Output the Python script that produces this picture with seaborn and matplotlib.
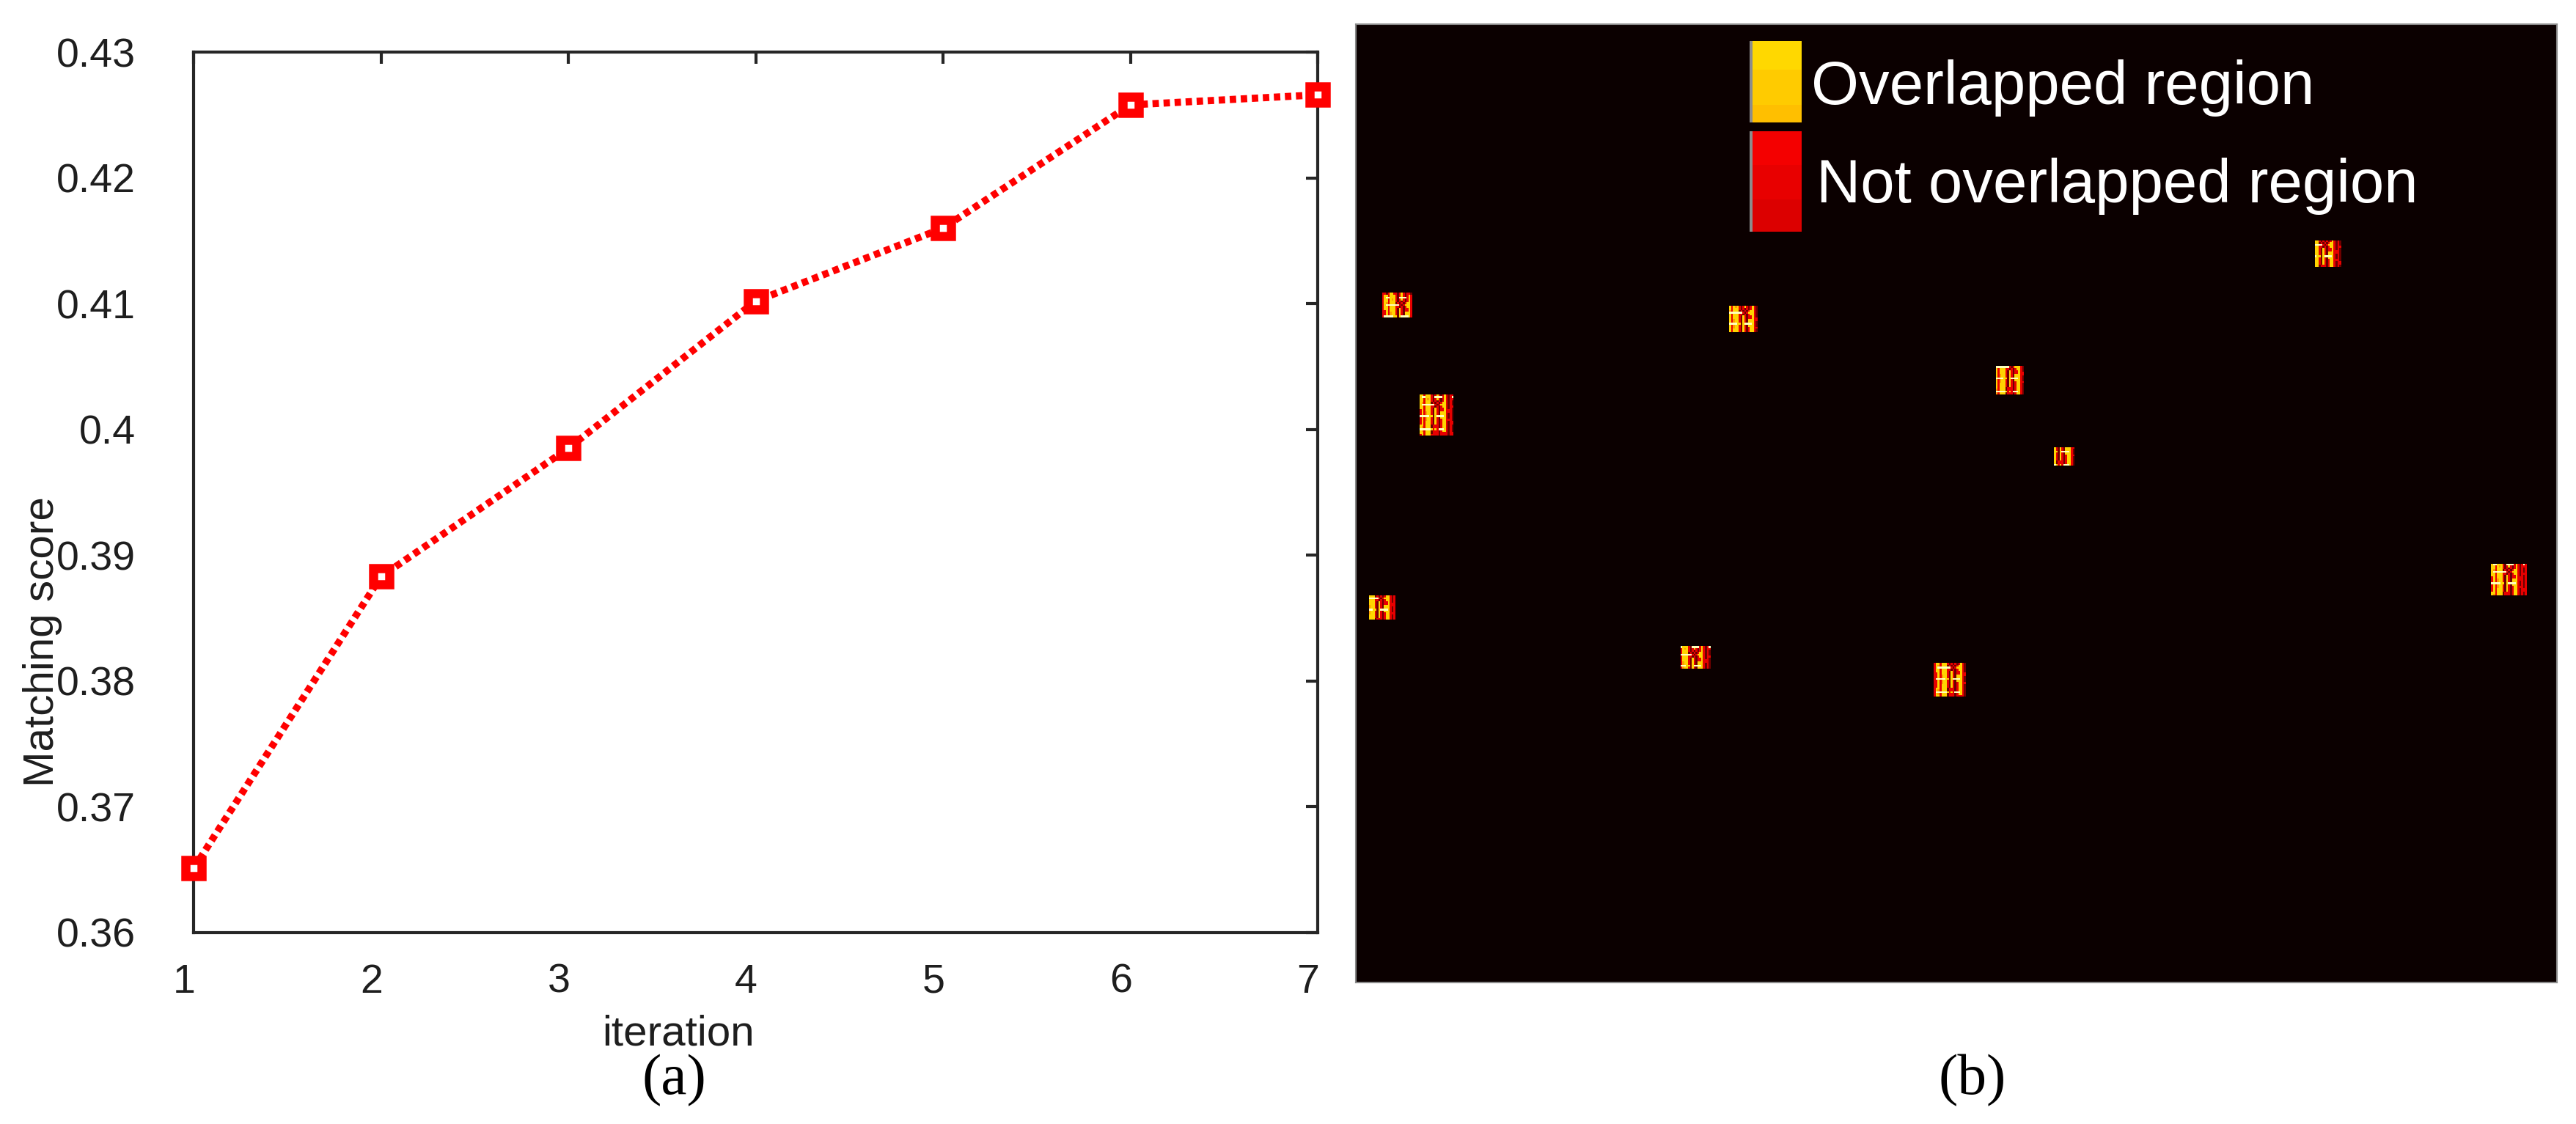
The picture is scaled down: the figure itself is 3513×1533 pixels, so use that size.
import numpy as np
import pandas as pd
import matplotlib
matplotlib.use("Agg")
import matplotlib.pyplot as plt
import seaborn as sns
from matplotlib.patches import Rectangle
from matplotlib.transforms import ScaledTranslation

# ---------------- data ----------------
iterations = [1, 2, 3, 4, 5, 6, 7]
scores = [0.3651, 0.3883, 0.3985, 0.4102, 0.4160, 0.4258, 0.4266]
xtick_vals = [1, 2, 3, 4, 5, 6, 7]
xtick_labels = ["1", "2", "3", "4", "5", "6", "7"]
ytick_vals = [0.36, 0.37, 0.38, 0.39, 0.40, 0.41, 0.42, 0.43]
ytick_labels = ["0.36", "0.37", "0.38", "0.39", "0.4", "0.41", "0.42", "0.43"]

# overlap map (b): grid size and blobs (cell coordinates, row 0 at top)
map_cols, map_rows = 640, 510
blob_col = [14, 34, 199, 7, 173, 308, 511, 341, 372, 605]
blob_row = [143, 197, 150, 304, 331, 340, 115, 182, 225, 287]
blob_w = [16, 18, 15, 14, 16, 17, 14, 15, 11, 19]
blob_h = [13, 22, 14, 13, 12, 18, 14, 15, 10, 17]
blob_tex_row = [0, 1, 3, 5, 2, 4, 4, 6, 10, 2]
blob_tex_col = [0, 1, 2, 4, 3, 0, 5, 2, 6, 1]
texture = [
    "rrdryyrrdryrdrrdrrdr",
    "ryyryyyrdryrdryrdrrr",
    "rywwyyyrdwwwwryrdrwr",
    "ryyryoyrdryrdryrdrrr",
    "ryyryyyrdrdrdryrdrdr",
    "ryoryyydrdrdryyrdrdr",
    "rywwwwwwwrdryyyrdrdr",
    "ryyryyyrrdrdryyrdrrr",
    "ryyryyyrdyrdrryrdrdr",
    "rryryyyrdyrdrryrrrdr",
    "rryroyyrdyrdyyyrrrdr",
    "rryroyyrdyrdyyyrdrdr",
    "rwwwwwyydywwwwyrdrdr",
    "rryroyyrdyrdyyyrdrdr",
    "rryroyyrdyrdryyrrrdr",
    "rryryyyrdyrdryyrdrrr",
    "rryryyyrdyrdryyrdrrr",
    "ryyryyydrrrdryyrdrdr",
    "ryoryyydrrrdryyrdrdr",
    "rwwwwwwyryrwwwyrdrdr",
    "ryoryyydrrrdryyrdrdr",
    "ryyryyydrrrdrrrrdrrr",
    "rryryyyrrrrdrrrrdrrr",
    "rrryyyrrdrrdrrrrrdrr",
]
levels = {".": 0.0, "d": 0.15, "r": 0.33, "o": 0.60, "y": 0.68, "w": 0.93}

legend_labels = ["Overlapped region", "Not overlapped region"]

# ---------------- figure ----------------
W, H = 3513, 1533
DPI = 100
sns.set_theme(style="white")
plt.rcParams["font.family"] = ["Liberation Sans", "DejaVu Sans"]
fig = plt.figure(figsize=(W / DPI, H / DPI), dpi=DPI, facecolor="white")


def fx(px):
    return px / W


def fy(py):
    return 1 - py / H


# ---- panel (a) ----
ax1 = fig.add_axes([fx(264), fy(1272), fx(1797 - 264), (1272 - 71) / H])
sns.lineplot(x=iterations, y=scores, ax=ax1, color="#ff0000", linewidth=7,
             marker="s", markersize=16, markeredgewidth=9,
             markerfacecolor="white", markeredgecolor="#ff0000",
             clip_on=False, zorder=5)
ln = ax1.lines[0]
ln.set_linestyle((0, (0.9, 0.65)))
ln.set_dash_capstyle("butt")

ax1.set_xlim(1, 7)
ax1.set_ylim(0.36, 0.43)
ax1.set_xticks(xtick_vals)
ax1.set_xticklabels(xtick_labels)
ax1.set_yticks(ytick_vals)
ax1.set_yticklabels(ytick_labels)
ax1.set_xlabel("")
ax1.set_ylabel("")
ax1.set_facecolor("white")
for s in ax1.spines.values():
    s.set_visible(True)
    s.set_color("#262626")
    s.set_linewidth(3)
ax1.tick_params(axis="both", direction="in", length=11.5, width=3, color="#262626",
                top=True, right=True, labelsize=40, labelcolor="#1e1e1e")
ax1.tick_params(axis="y", pad=57)
ax1.tick_params(axis="x", pad=30)
shift = ScaledTranslation(-13 / DPI, 0, fig.dpi_scale_trans)
for lab in ax1.get_xticklabels():
    lab.set_transform(lab.get_transform() + shift)

fig.text(fx(925), fy(1410), "iteration", ha="center", va="center",
         fontsize=42, color="#1e1e1e")
fig.text(fx(58), fy(875), "Matching score", ha="center", va="center",
         rotation=90, fontsize=42, color="#1e1e1e")
fig.text(fx(919), fy(1474), "(a)", ha="center", va="center", fontsize=57,
         family=["Liberation Serif", "DejaVu Serif"], color="black")
fig.text(fx(2690), fy(1474), "(b)", ha="center", va="center", fontsize=57,
         family=["Liberation Serif", "DejaVu Serif"], color="black")

# ---- panel (b) ----
grid = np.zeros((map_rows, map_cols))
tex = np.array([[levels[c] for c in row] for row in texture])
for c, r, w, h, tr, tc in zip(blob_col, blob_row, blob_w, blob_h, blob_tex_row, blob_tex_col):
    patch = tex[tr:tr + h, tc:tc + w]
    grid[r:r + patch.shape[0], c:c + patch.shape[1]] = patch
df = pd.DataFrame(grid)

ax2 = fig.add_axes([fx(1849), fy(1340), fx(1638), 1307 / H])
sns.heatmap(df, ax=ax2, cmap="hot", vmin=0, vmax=1, cbar=False,
            xticklabels=False, yticklabels=False, rasterized=True)
ax2.set_xticks([100, 200, 300, 400, 500, 600])
ax2.set_yticks([50, 100, 150, 200, 250, 300, 350, 400, 450, 500])
ax2.tick_params(axis="both", direction="in", length=11.5, width=1.5, color="#2e2e2e",
                top=True, right=True, bottom=True, left=True,
                labelbottom=False, labelleft=False)
ax2.set_xlabel("")
ax2.set_ylabel("")
for s in ax2.spines.values():
    s.set_visible(True)
    s.set_color("#8a8a8a")
    s.set_linewidth(1.5)

# legend swatches (figure pixel coordinates)
yellow_bands = [(56, 95, "#ffd800"), (95, 143, "#ffcb00"), (143, 167, "#ffbf00")]
red_bands = [(179, 225, "#f40000"), (225, 272, "#e80000"), (272, 316, "#dc0000")]
for bands in (yellow_bands, red_bands):
    for y0, y1, col in bands:
        fig.patches.append(Rectangle((fx(2390), fy(y1)), fx(2457 - 2390), (y1 - y0) / H,
                                     transform=fig.transFigure, facecolor=col,
                                     edgecolor="none", zorder=10))
    top, bot = bands[0][0], bands[-1][1]
    fig.patches.append(Rectangle((fx(2386), fy(bot)), fx(4), (bot - top) / H,
                                 transform=fig.transFigure, facecolor="#8c8c8c",
                                 edgecolor="none", zorder=10))

fig.text(fx(2470), fy(142), legend_labels[0], ha="left", va="baseline",
         fontsize=60, color="white", zorder=11)
fig.text(fx(2477), fy(276), legend_labels[1], ha="left", va="baseline",
         fontsize=60, color="white", zorder=11)

fig.savefig("out.png", dpi=DPI, facecolor="white")
